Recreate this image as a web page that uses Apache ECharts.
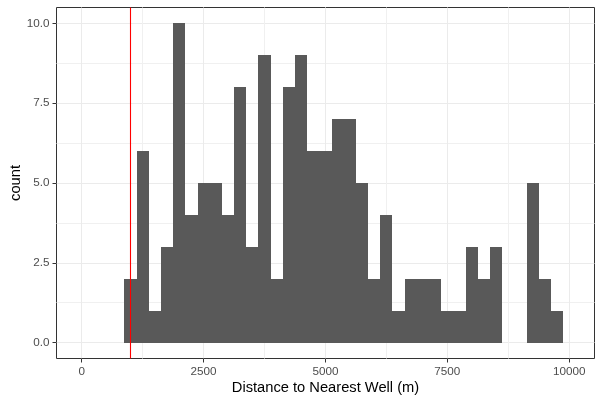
<!DOCTYPE html>
<html>
<head>
<meta charset="utf-8">
<script src="https://cdn.jsdelivr.net/npm/echarts@6/dist/echarts.min.js"></script>
<style>
  html, body { margin: 0; padding: 0; background: #fff; }
  #chart { width: 602px; height: 403px; }
</style>
</head>
<body>
<div id="chart"></div>
<script>
// histogram bins (binwidth 250), centre of each bin
const binWidth = 250
const binCenters = [
  1000, 1250, 1500, 1750, 2000, 2250, 2500, 2750, 3000, 3250, 3500, 3750,
  4000, 4250, 4500, 4750, 5000, 5250, 5500, 5750, 6000, 6250, 6500, 6750,
  7000, 7250, 7500, 7750, 8000, 8250, 8500, 8750, 9000, 9250, 9500, 9750,
]
const counts = [
  2, 6, 1, 3, 10, 4, 5, 5, 4, 8, 3, 9,
  2, 8, 9, 6, 6, 7, 7, 5, 2, 4, 1, 2,
  2, 2, 1, 1, 3, 2, 3, 0, 0, 5, 2, 1,
]
const refLine = 1000

const xMajor = [0, 2500, 5000, 7500, 10000]
const xMinor = [1250, 3750, 6250, 8750]
const yMajor = [0, 2.5, 5, 7.5, 10]
const yMinor = [1.25, 3.75, 6.25, 8.75]

const FONT = 'Liberation Sans, Arial, sans-serif'
const GRID_COL = '#EBEBEB'

const chart = echarts.init(document.getElementById('chart'), null, { renderer: 'canvas' })

const barData = binCenters.map((c, i) => [c - binWidth / 2, c + binWidth / 2, counts[i]])

const option = {
  animation: false,
  backgroundColor: '#fff',
  grid: {
    left: 56.5, right: 7.5, top: 7.5, bottom: 44.5,
    outerBoundsMode: 'none',
    containLabel: false,
    show: true, borderColor: '#333333', borderWidth: 1, backgroundColor: 'transparent',
  },
  xAxis: [
    {
      type: 'value',
      min: -518, max: 10520,
      name: 'Distance to Nearest Well (m)',
      nameLocation: 'middle',
      nameGap: 22,
      nameMoveOverlap: false,
      nameTextStyle: { color: '#000', fontSize: 14.7, fontFamily: FONT },
      axisLine: { show: false, onZero: false },
      axisTick: { show: true, length: 4, customValues: xMajor, lineStyle: { color: '#333333' } },
      axisLabel: {
        customValues: xMajor, color: '#4D4D4D', fontSize: 11.7, fontFamily: FONT, margin: 7,
        formatter: v => String(v),
      },
      splitLine: { show: true, lineStyle: { color: GRID_COL, width: 1 } },
    },
    {
      type: 'value',
      position: 'top',
      min: -518, max: 10520,
      axisLine: { show: false, onZero: false },
      axisTick: { show: false, customValues: xMinor },
      axisLabel: { show: false },
      splitLine: { show: true, lineStyle: { color: '#F0F0F0', width: 1 } },
    },
  ],
  yAxis: [
    {
      type: 'value',
      min: -0.5, max: 10.5,
      name: 'count',
      nameLocation: 'middle',
      nameGap: 33,
      nameMoveOverlap: false,
      nameTextStyle: { color: '#000', fontSize: 14.7, fontFamily: FONT },
      axisLine: { show: false, onZero: false },
      axisTick: { show: true, length: 4, customValues: yMajor, lineStyle: { color: '#333333' } },
      axisLabel: {
        customValues: yMajor, color: '#4D4D4D', fontSize: 11.7, fontFamily: FONT, margin: 7,
        formatter: v => v.toFixed(1),
      },
      splitLine: { show: true, lineStyle: { color: GRID_COL, width: 1 } },
    },
    {
      type: 'value',
      position: 'right',
      min: -0.5, max: 10.5,
      axisLine: { show: false, onZero: false },
      axisTick: { show: false, customValues: yMinor },
      axisLabel: { show: false },
      splitLine: { show: true, lineStyle: { color: '#F0F0F0', width: 1 } },
    },
  ],
  series: [
    {
      type: 'custom',
      xAxisIndex: 0,
      yAxisIndex: 0,
      data: barData,
      renderItem: (params, api) => {
        const p0 = api.coord([api.value(0), api.value(2)])
        const p1 = api.coord([api.value(1), 0])
        const x0 = Math.round(p0[0])
        const x1 = Math.round(p1[0])
        const y0 = Math.round(p0[1])
        const y1 = Math.round(p1[1])
        return {
          type: 'rect',
          shape: { x: x0, y: y0, width: x1 - x0, height: y1 - y0 },
          style: { fill: '#595959' },
        }
      },
      markLine: {
        silent: true,
        symbol: 'none',
        label: { show: false },
        lineStyle: { color: '#FF0000', width: 1.1, type: 'solid' },
        data: [{ xAxis: refLine }],
        z: 10,
      },
    },
  ],
}

chart.setOption(option)
</script>
</body>
</html>
